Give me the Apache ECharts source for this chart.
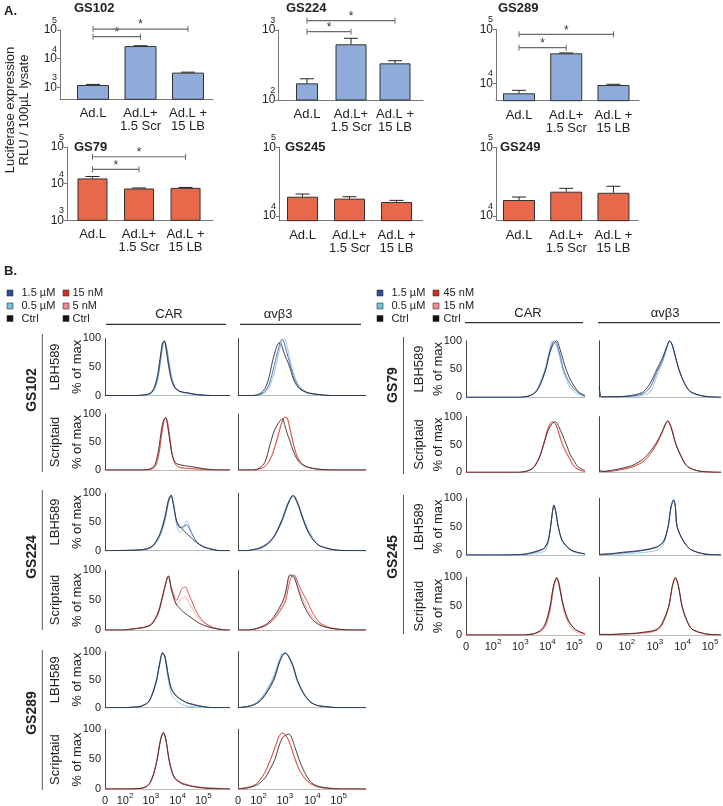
<!DOCTYPE html>
<html>
<head>
<meta charset="utf-8">
<script src="https://cdn.jsdelivr.net/npm/echarts@6.0.0/dist/echarts.min.js"></script>
<style>
  html, body { margin: 0; padding: 0; background: #fff; }
  #chart { width: 723px; height: 806px; }
</style>
</head>
<body>
<div id="chart"></div>
<script>
const FONT = "'Liberation Sans', Arial, sans-serif";

// ---- A. luciferase bars (RLU / 100uL lysate) ----
const barCats = ['Ad.L', 'Ad.L+\n1.5 Scr', 'Ad.L +\n15 LB'];
const gs102Mean = [1200, 27500, 3250];
const gs102Err = [60, 700, 120];
const gs224Mean = [173, 625, 334];
const gs224Err = [28, 136, 30];
const gs289Mean = [6530, 35900, 9310];
const gs289Err = [890, 600, 300];
const gs79Mean = [13900, 7380, 7670];
const gs79Err = [1800, 250, 220];
const gs245Mean = [19100, 17900, 16000];
const gs245Err = [1800, 1200, 900];
const gs249Mean = [17100, 22600, 21800];
const gs249Err = [1800, 2700, 5300];
// significance brackets: [from, to, level]
const gs102Sig = [[0, 1, 58300], [0, 2, 108000]];
const gs224Sig = [[0, 1, 946], [0, 2, 1360]];
const gs289Sig = [[0, 1, 45600], [0, 2, 80800]];
const gs79Sig = [[0, 1, 24500], [0, 2, 54200]];

// ---- B. flow histograms (% of max), x in display channels 0..1000 ----
const leftTicks = [0, 160, 366, 580, 786];
const rightTicks = [0, 227, 456, 684, 910];

const gs102CarLbhX = [0, 250, 320, 360, 390, 420, 445, 460, 475, 490, 510, 530, 560, 600, 650, 700, 760, 850, 1000];
const gs102CarLbhCtrl = [0, 0, 1, 4, 12, 35, 72, 92, 95, 78, 50, 28, 13, 7, 5, 3, 1, 0, 0];
const gs102CarLbhHigh = [0, 0, 1, 3, 10, 30, 65, 88, 96, 85, 57, 32, 14, 7, 5, 3, 1, 0, 0];
const gs102CarLbhLow = [0, 0, 1, 3, 8, 25, 58, 82, 94, 88, 62, 36, 16, 7, 4, 2, 1, 0, 0];

const gs102AvbLbhX = [0, 120, 170, 210, 240, 270, 300, 320, 340, 355, 370, 390, 410, 440, 480, 540, 620, 720, 1000];
const gs102AvbLbhCtrl = [0, 0, 3, 12, 30, 60, 84, 92, 88, 78, 68, 58, 45, 25, 12, 5, 2, 0, 0];
const gs102AvbLbhHigh = [0, 0, 2, 7, 18, 40, 68, 85, 98, 96, 85, 68, 52, 30, 14, 5, 2, 0, 0];
const gs102AvbLbhLow = [0, 0, 1, 5, 13, 30, 55, 75, 92, 99, 98, 80, 60, 35, 16, 6, 2, 0, 0];

const gs102CarScrX = [0, 300, 360, 400, 430, 450, 470, 485, 500, 515, 530, 550, 575, 610, 660, 720, 800, 900, 1000];
const gs102CarScrCtrl = [0, 0, 2, 10, 38, 70, 90, 93, 80, 58, 35, 18, 11, 9, 7, 5, 2, 0, 0];
const gs102CarScrHigh = [0, 0, 1, 6, 28, 60, 86, 94, 85, 62, 38, 17, 7, 4, 3, 2, 1, 0, 0];
const gs102CarScrLow = [0, 0, 1, 5, 25, 56, 84, 93, 87, 66, 40, 18, 7, 4, 3, 2, 1, 0, 0];

const gs102AvbScrX = [0, 120, 170, 210, 250, 280, 310, 330, 345, 365, 385, 405, 430, 460, 500, 560, 650, 760, 1000];
const gs102AvbScrCtrl = [0, 0, 4, 14, 45, 68, 82, 88, 92, 80, 65, 52, 35, 20, 10, 4, 1, 0, 0];
const gs102AvbScrHigh = [0, 0, 2, 6, 18, 35, 58, 75, 86, 94, 93, 75, 50, 26, 11, 4, 1, 0, 0];
const gs102AvbScrLow = [0, 0, 2, 7, 20, 38, 60, 77, 88, 95, 90, 72, 47, 24, 10, 4, 1, 0, 0];

const gs224CarLbhX = [0, 250, 330, 387, 440, 480, 507, 528, 547, 573, 600, 627, 653, 693, 733, 787, 867, 920, 1000];
const gs224CarLbhCtrl = [0, 1, 3, 10, 30, 60, 88, 97, 80, 52, 42, 36, 30, 22, 14, 7, 2, 0, 0];
const gs224CarLbhHigh = [0, 1, 3, 9, 28, 56, 85, 96, 82, 50, 40, 42, 45, 30, 16, 7, 2, 0, 0];
const gs224CarLbhLow = [0, 1, 2, 8, 25, 52, 82, 95, 84, 45, 32, 40, 52, 32, 16, 6, 2, 0, 0];

const gs224AvbLbhX = [0, 60, 120, 170, 224, 280, 341, 390, 420, 432, 445, 470, 523, 570, 627, 700, 770, 860, 1000];
const gs224AvbLbhCtrl = [0, 0, 2, 5, 12, 25, 52, 82, 95, 96, 92, 80, 45, 24, 10, 4, 1, 0, 0];
const gs224AvbLbhHigh = [0, 0, 2, 4, 10, 23, 50, 80, 94, 96, 94, 82, 47, 25, 10, 4, 1, 0, 0];
const gs224AvbLbhLow = [0, 0, 1, 4, 10, 24, 54, 84, 93, 94, 92, 78, 50, 28, 11, 4, 1, 0, 0];

const gs224CarScrX = [0, 150, 227, 307, 373, 427, 467, 507, 533, 573, 613, 640, 680, 733, 787, 867, 973, 1000];
const gs224CarScrCtrl = [0, 0, 2, 4, 10, 30, 62, 90, 65, 42, 33, 28, 22, 14, 8, 3, 0, 0];
const gs224CarScrHigh = [0, 0, 2, 4, 9, 28, 60, 90, 70, 50, 68, 72, 55, 30, 14, 4, 0, 0];
const gs224CarScrLow = [0, 0, 2, 5, 11, 32, 64, 88, 68, 42, 52, 55, 42, 24, 12, 4, 0, 0];

const gs224AvbScrX = [0, 80, 150, 224, 290, 353, 374, 406, 437, 470, 497, 536, 580, 640, 720, 796, 880, 1000];
const gs224AvbScrCtrl = [0, 0, 3, 10, 25, 50, 65, 92, 88, 68, 50, 32, 18, 8, 3, 1, 0, 0];
const gs224AvbScrHigh = [0, 0, 2, 8, 20, 40, 50, 82, 92, 78, 65, 50, 30, 12, 4, 1, 0, 0];
const gs224AvbScrLow = [0, 0, 3, 9, 22, 44, 58, 90, 90, 72, 56, 38, 22, 10, 3, 1, 0, 0];

const gs289CarLbhX = [0, 150, 227, 280, 347, 387, 413, 440, 461, 480, 507, 533, 573, 613, 653, 707, 760, 867, 1000];
const gs289CarLbhCtrl = [0, 0, 1, 2, 10, 30, 50, 82, 98, 90, 55, 32, 20, 14, 9, 6, 3, 0, 0];
const gs289CarLbhHigh = [0, 0, 1, 2, 10, 28, 48, 80, 98, 92, 58, 34, 21, 14, 9, 5, 3, 0, 0];
const gs289CarLbhLow = [0, 0, 1, 2, 11, 32, 53, 85, 99, 86, 48, 24, 12, 6, 3, 2, 1, 0, 0];

const gs289AvbLbhX = [0, 73, 120, 164, 220, 281, 320, 350, 372, 395, 430, 463, 510, 567, 620, 684, 780, 1000];
const gs289AvbLbhCtrl = [0, 2, 5, 10, 25, 50, 78, 94, 97, 92, 75, 50, 27, 10, 4, 2, 0, 0];
const gs289AvbLbhHigh = [0, 2, 5, 11, 27, 53, 80, 95, 98, 92, 74, 49, 26, 10, 4, 2, 0, 0];
const gs289AvbLbhLow = [0, 2, 6, 13, 31, 58, 84, 97, 97, 90, 72, 47, 25, 10, 4, 2, 0, 0];

const gs289CarScrX = [0, 150, 280, 330, 360, 390, 418, 445, 466, 485, 512, 535, 560, 613, 660, 707, 813, 1000];
const gs289CarScrCtrl = [0, 0, 1, 4, 10, 25, 50, 82, 94, 85, 50, 30, 18, 9, 6, 4, 1, 0];
const gs289CarScrHigh = [0, 0, 1, 4, 11, 27, 52, 84, 95, 84, 48, 28, 17, 10, 7, 4, 2, 0];
const gs289CarScrLow = [0, 0, 1, 3, 10, 26, 51, 84, 95, 86, 50, 30, 19, 11, 7, 5, 2, 0];

const gs289AvbScrX = [0, 55, 100, 151, 210, 255, 289, 320, 346, 370, 398, 445, 476, 520, 567, 620, 697, 800, 1000];
const gs289AvbScrCtrl = [0, 1, 3, 7, 18, 35, 50, 72, 85, 90, 92, 70, 50, 28, 12, 5, 2, 0, 0];
const gs289AvbScrHigh = [0, 2, 4, 10, 28, 50, 70, 88, 94, 90, 80, 50, 33, 18, 9, 4, 1, 0, 0];
const gs289AvbScrLow = [0, 2, 4, 10, 27, 49, 68, 87, 93, 91, 82, 52, 35, 19, 9, 4, 1, 0, 0];

const gs79CarLbhX = [0, 300, 450, 523, 560, 594, 630, 672, 700, 728, 745, 762, 790, 818, 840, 880, 944, 1000];
const gs79CarLbhCtrl = [0, 0, 0, 2, 5, 11, 25, 50, 75, 92, 97, 100, 85, 65, 50, 30, 10, 3];
const gs79CarLbhHigh = [0, 0, 0, 2, 5, 12, 27, 52, 78, 96, 100, 95, 75, 50, 38, 22, 8, 2];
const gs79CarLbhLow = [0, 0, 0, 2, 6, 13, 30, 56, 82, 100, 97, 90, 68, 45, 32, 16, 5, 1];

const gs79AvbLbhX = [0, 10, 30, 150, 254, 320, 364, 419, 474, 520, 555, 578, 600, 653, 700, 749, 859, 1000];
const gs79AvbLbhCtrl = [20, 2, 1, 1, 3, 6, 10, 25, 50, 70, 90, 100, 92, 50, 25, 10, 2, 0];
const gs79AvbLbhHigh = [18, 2, 1, 1, 2, 4, 7, 18, 45, 66, 88, 100, 92, 50, 25, 10, 2, 0];
const gs79AvbLbhLow = [15, 2, 1, 1, 1, 2, 4, 10, 38, 62, 86, 99, 91, 50, 24, 9, 2, 0];

const gs79CarScrX = [0, 300, 450, 509, 545, 575, 615, 653, 690, 726, 753, 780, 809, 843, 880, 909, 941, 1000];
const gs79CarScrCtrl = [0, 0, 0, 2, 5, 10, 25, 50, 75, 88, 91, 82, 68, 50, 30, 20, 10, 3];
const gs79CarScrHigh = [0, 0, 0, 2, 5, 11, 27, 52, 80, 91, 86, 70, 50, 35, 20, 10, 5, 1];
const gs79CarScrLow = [0, 0, 0, 2, 5, 11, 26, 51, 78, 90, 87, 72, 53, 38, 22, 12, 6, 2];

const gs79AvbScrX = [0, 10, 39, 137, 268, 320, 367, 420, 465, 510, 545, 563, 590, 629, 680, 727, 825, 1000];
const gs79AvbScrCtrl = [8, 2, 2, 5, 12, 18, 25, 38, 52, 70, 88, 92, 80, 50, 25, 10, 2, 0];
const gs79AvbScrHigh = [6, 2, 1, 3, 9, 14, 20, 33, 48, 68, 87, 93, 82, 52, 26, 10, 2, 0];
const gs79AvbScrLow = [6, 2, 1, 4, 10, 15, 21, 34, 49, 68, 86, 92, 81, 51, 25, 10, 2, 0];

const gs245CarLbhX = [0, 300, 450, 510, 580, 640, 664, 690, 711, 728, 739, 755, 775, 810, 874, 930, 1000];
const gs245CarLbhCtrl = [0, 0, 1, 2, 6, 10, 14, 25, 50, 78, 87, 75, 50, 25, 10, 5, 2];
const gs245CarLbhHigh = [0, 0, 0, 2, 5, 9, 13, 24, 50, 78, 88, 76, 50, 25, 10, 5, 2];
const gs245CarLbhLow = [0, 0, 0, 1, 3, 5, 8, 20, 48, 79, 89, 77, 50, 24, 9, 4, 2];

const gs245AvbLbhX = [0, 88, 198, 300, 391, 450, 487, 530, 565, 590, 611, 625, 639, 690, 749, 859, 1000];
const gs245AvbLbhCtrl = [1, 2, 5, 7, 10, 13, 16, 25, 50, 85, 97, 85, 50, 25, 10, 2, 0];
const gs245AvbLbhHigh = [1, 2, 4, 6, 9, 12, 15, 24, 50, 86, 97, 85, 50, 25, 10, 2, 0];
const gs245AvbLbhLow = [1, 1, 2, 3, 5, 7, 10, 20, 48, 85, 98, 86, 51, 25, 10, 2, 0];

const gs245CarScrX = [0, 300, 480, 566, 600, 636, 670, 706, 735, 762, 780, 818, 860, 916, 1000];
const gs245CarScrCtrl = [0, 0, 0, 2, 5, 10, 22, 50, 85, 100, 88, 50, 25, 10, 2];
const gs245CarScrHigh = [0, 0, 0, 2, 4, 8, 18, 45, 82, 98, 92, 52, 26, 10, 2];
const gs245CarScrLow = [0, 0, 0, 2, 4, 8, 16, 40, 78, 97, 90, 45, 20, 6, 1];

const gs245AvbScrX = [0, 100, 198, 300, 364, 430, 474, 515, 570, 600, 625, 650, 680, 720, 763, 873, 1000];
const gs245AvbScrCtrl = [1, 1, 2, 3, 5, 7, 10, 20, 50, 85, 100, 85, 50, 25, 10, 2, 0];
const gs245AvbScrHigh = [1, 1, 2, 3, 4, 6, 9, 18, 48, 84, 99, 86, 50, 25, 10, 2, 0];
const gs245AvbScrLow = [1, 1, 1, 2, 3, 5, 8, 16, 47, 85, 98, 84, 48, 23, 9, 2, 0];

const blueLines = { ctrl: '#2a2d3c', high: '#3f63ad', low: '#8cc6e6' };
const redLines = { ctrl: '#3b2b2b', high: '#d9443e', low: '#f3a3a3' };

const option = {
  animation: false,
  textStyle: { fontFamily: FONT },
  grid: [],
  xAxis: [],
  yAxis: [],
  series: [],
  graphic: []
};

function txt(text, x, y, size, opts) {
  opts = opts || {};
  const align = opts.align || 'left';
  return {
    type: 'text', x: x, y: y, rotation: opts.rot || 0, silent: true,
    style: {
      text: text, fill: opts.color || '#222',
      font: (opts.bold ? 'bold ' : '') + size + 'px ' + FONT,
      align: align, textAlign: align,
      verticalAlign: 'middle', textVerticalAlign: 'middle'
    }
  };
}
function seg(x1, y1, x2, y2, color, w) {
  return { type: 'line', silent: true, shape: { x1: x1, y1: y1, x2: x2, y2: y2 },
    style: { stroke: color || '#333', lineWidth: w || 1 } };
}

function addBarChart(c) {
  const gi = option.grid.length;
  option.grid.push({ left: c.left, top: c.top, width: c.width, height: c.bottom - c.top });
  const xi = option.xAxis.length;
  option.xAxis.push({
    gridIndex: gi, type: 'value', min: c.xMin, max: c.xMax,
    axisLine: { show: true, onZero: false, lineStyle: { color: '#777', width: 1 } },
    axisTick: { show: false },
    splitLine: { show: false },
    axisLabel: {
      customValues: [0, 1, 2], margin: 8, fontSize: 13, lineHeight: 13, color: '#222',
      formatter: v => barCats[Math.round(v)]
    }
  });
  const yi = option.yAxis.length;
  option.yAxis.push({
    gridIndex: gi, type: 'value', min: c.yMin, max: c.yMax,
    axisLine: { show: true, onZero: false, lineStyle: { color: '#777', width: 1 } },
    axisTick: { show: true, length: 3, customValues: c.ticks, lineStyle: { color: '#777' } },
    splitLine: { show: false },
    axisLabel: {
      customValues: c.ticks, margin: 3, padding: [0, 0, 8, 0],
      formatter: v => '{e|' + Math.round(v) + '}\n{b|10}',
      rich: {
        e: { fontSize: 9, lineHeight: 8, color: '#222', fontFamily: FONT },
        b: { fontSize: 12, lineHeight: 11, color: '#222', fontFamily: FONT }
      }
    }
  });
  const barStyle = { color: c.color, borderColor: '#333', borderWidth: 1 };
  const pts = c.mean.map((v, i) => [i, Math.log10(v)]);
  if (c.firstWidth) {
    const xi2 = option.xAxis.length;
    option.xAxis.push({ gridIndex: gi, type: 'value', min: c.xMin, max: c.xMax, show: false });
    option.series.push({ type: 'bar', xAxisIndex: xi, yAxisIndex: yi, data: pts.slice(0, 1),
      barWidth: c.firstWidth, clip: true, silent: true, itemStyle: barStyle });
    option.series.push({ type: 'bar', xAxisIndex: xi2, yAxisIndex: yi, data: pts.slice(1),
      barWidth: c.barWidth, clip: true, silent: true, itemStyle: barStyle });
  } else {
    option.series.push({ type: 'bar', xAxisIndex: xi, yAxisIndex: yi, data: pts,
      barWidth: c.barWidth, clip: true, silent: true, itemStyle: barStyle });
  }
  option.series.push({
    type: 'custom', xAxisIndex: xi, yAxisIndex: yi, silent: true, z: 4,
    data: c.mean.map((v, i) => [i, Math.log10(v), Math.log10(v + c.err[i])]),
    encode: { x: 0, y: [1, 2] },
    renderItem: (params, api) => {
      const b = api.coord([api.value(0), api.value(1)]);
      const t = api.coord([api.value(0), api.value(2)]);
      return { type: 'group', children: [
        { type: 'line', shape: { x1: t[0], y1: b[1], x2: t[0], y2: t[1] }, style: { stroke: '#222', lineWidth: 1 } },
        { type: 'line', shape: { x1: t[0] - 7, y1: t[1], x2: t[0] + 7, y2: t[1] }, style: { stroke: '#222', lineWidth: 1 } }
      ] };
    }
  });
  if (c.sig) {
    option.series.push({
      type: 'custom', xAxisIndex: xi, yAxisIndex: yi, silent: true, z: 4,
      data: c.sig.map(s => [s[0], s[1], Math.log10(s[2])]),
      encode: { x: [0, 1], y: 2 },
      renderItem: (params, api) => {
        const p1 = api.coord([api.value(0), api.value(2)]);
        const p2 = api.coord([api.value(1), api.value(2)]);
        const col = '#6a6a6a';
        return { type: 'group', children: [
          { type: 'line', shape: { x1: p1[0], y1: p1[1], x2: p2[0], y2: p2[1] }, style: { stroke: col, lineWidth: 1.2 } },
          { type: 'line', shape: { x1: p1[0], y1: p1[1] - 3, x2: p1[0], y2: p1[1] + 3 }, style: { stroke: col, lineWidth: 1 } },
          { type: 'line', shape: { x1: p2[0], y1: p2[1] - 3, x2: p2[0], y2: p2[1] + 3 }, style: { stroke: col, lineWidth: 1 } },
          { type: 'text', x: (p1[0] + p2[0]) / 2, y: p1[1] - 4,
            style: { text: '*', font: '12px ' + FONT, fill: '#333', align: 'center', textAlign: 'center',
              verticalAlign: 'middle', textVerticalAlign: 'middle' } }
        ] };
      }
    });
  }
  option.graphic.push(txt(c.title, c.titleX, c.titleY, 13, { bold: true }));
}

const BLUE = '#8eabd9';
const ORANGE = '#e8684b';
addBarChart({ title: 'GS102', titleX: 74, titleY: 8, left: 60, width: 153, top: 30, bottom: 99.3,
  xMin: -0.695, xMax: 2.526, yMin: 2.58, yMax: 5, ticks: [3, 4, 5], mean: gs102Mean, err: gs102Err,
  sig: gs102Sig, color: BLUE, barWidth: 32 });
addBarChart({ title: 'GS224', titleX: 286, titleY: 8, left: 278.3, width: 144.7, top: 30, bottom: 100,
  xMin: -0.652, xMax: 2.636, yMin: 2, yMax: 3, ticks: [2, 3], mean: gs224Mean, err: gs224Err,
  sig: gs224Sig, color: BLUE, barWidth: 31, firstWidth: 22 });
addBarChart({ title: 'GS289', titleX: 498, titleY: 8, left: 496, width: 143, top: 29.3, bottom: 100.7,
  xMin: -0.487, xMax: 2.54, yMin: 3.678, yMax: 5, ticks: [4, 5], mean: gs289Mean, err: gs289Err,
  sig: gs289Sig, color: BLUE, barWidth: 32 });
addBarChart({ title: 'GS79', titleX: 74, titleY: 147, left: 67, width: 146, top: 147, bottom: 220.3,
  xMin: -0.548, xMax: 2.59, yMin: 3, yMax: 5, ticks: [3, 4, 5], mean: gs79Mean, err: gs79Err,
  sig: gs79Sig, color: ORANGE, barWidth: 30 });
addBarChart({ title: 'GS245', titleX: 285, titleY: 147, left: 279, width: 143.7, top: 147.3, bottom: 220.7,
  xMin: -0.5, xMax: 2.557, yMin: 3.932, yMax: 5, ticks: [4, 5], mean: gs245Mean, err: gs245Err,
  color: ORANGE, barWidth: 31 });
addBarChart({ title: 'GS249', titleX: 500, titleY: 147, left: 496, width: 142, top: 147.3, bottom: 220.7,
  xMin: -0.487, xMax: 2.52, yMin: 3.932, yMax: 5, ticks: [4, 5], mean: gs249Mean, err: gs249Err,
  color: ORANGE, barWidth: 32 });

function addHist(box, xs, ctrl, high, low, pal, showY, ticks) {
  const gi = option.grid.length;
  option.grid.push({ left: box[0], top: box[2], width: box[1], height: box[3] - box[2] });
  const xi = option.xAxis.length;
  option.xAxis.push({
    gridIndex: gi, type: 'value', min: 0, max: 1000,
    axisLine: { show: true, onZero: false, lineStyle: { color: '#bbb', width: 1 } },
    axisTick: { show: false }, splitLine: { show: false },
    axisLabel: ticks ? {
      customValues: ticks, margin: 3,
      formatter: v => {
        const i = ticks.indexOf(v);
        return i <= 0 ? '{b|0}' : '{b|10}{e|' + (i + 1) + '}';
      },
      rich: {
        b: { fontSize: 11, lineHeight: 14, color: '#222', verticalAlign: 'bottom', fontFamily: FONT },
        e: { fontSize: 8, lineHeight: 8, color: '#222', verticalAlign: 'top', fontFamily: FONT }
      }
    } : { show: false }
  });
  const yi = option.yAxis.length;
  option.yAxis.push({
    gridIndex: gi, type: 'value', min: 0, max: 100, interval: 50,
    axisLine: { show: true, onZero: false, lineStyle: { color: '#444', width: 1 } },
    axisTick: { show: false }, splitLine: { show: false },
    axisLabel: showY ? { fontSize: 11, color: '#222', margin: 4 } : { show: false }
  });
  [[low, pal.low], [high, pal.high], [ctrl, pal.ctrl]].forEach(([ys, col]) => {
    option.series.push({
      type: 'line', xAxisIndex: xi, yAxisIndex: yi, silent: true,
      data: xs.map((x, i) => [x, ys[i]]),
      showSymbol: false, symbol: 'none', smooth: 0.3,
      lineStyle: { width: 1, color: col, opacity: 0.9 }
    });
  });
}

// left block rows [top(100), bottom(0)]
const L = [[338.3, 395.5], [414, 470], [493.3, 550.7], [570, 630], [651.7, 707.7], [729.3, 790]];
const LCAR = [105, 125], LAVB = [238, 128];
const leftPlots = [
  [gs102CarLbhX, gs102CarLbhCtrl, gs102CarLbhHigh, gs102CarLbhLow, gs102AvbLbhX, gs102AvbLbhCtrl, gs102AvbLbhHigh, gs102AvbLbhLow, blueLines],
  [gs102CarScrX, gs102CarScrCtrl, gs102CarScrHigh, gs102CarScrLow, gs102AvbScrX, gs102AvbScrCtrl, gs102AvbScrHigh, gs102AvbScrLow, redLines],
  [gs224CarLbhX, gs224CarLbhCtrl, gs224CarLbhHigh, gs224CarLbhLow, gs224AvbLbhX, gs224AvbLbhCtrl, gs224AvbLbhHigh, gs224AvbLbhLow, blueLines],
  [gs224CarScrX, gs224CarScrCtrl, gs224CarScrHigh, gs224CarScrLow, gs224AvbScrX, gs224AvbScrCtrl, gs224AvbScrHigh, gs224AvbScrLow, redLines],
  [gs289CarLbhX, gs289CarLbhCtrl, gs289CarLbhHigh, gs289CarLbhLow, gs289AvbLbhX, gs289AvbLbhCtrl, gs289AvbLbhHigh, gs289AvbLbhLow, blueLines],
  [gs289CarScrX, gs289CarScrCtrl, gs289CarScrHigh, gs289CarScrLow, gs289AvbScrX, gs289AvbScrCtrl, gs289AvbScrHigh, gs289AvbScrLow, redLines]
];
leftPlots.forEach((p, r) => {
  const last = r === leftPlots.length - 1;
  addHist([LCAR[0], LCAR[1], L[r][0], L[r][1]], p[0], p[1], p[2], p[3], p[8], true, last ? leftTicks : null);
  addHist([LAVB[0], LAVB[1], L[r][0], L[r][1]], p[4], p[5], p[6], p[7], p[8], false, last ? leftTicks : null);
});

const R = [[340.7, 397.3], [416.7, 472.3], [498.3, 555], [577.3, 635]];
const RCAR = [466, 119], RAVB = [599.3, 121.7];
const rightPlots = [
  [gs79CarLbhX, gs79CarLbhCtrl, gs79CarLbhHigh, gs79CarLbhLow, gs79AvbLbhX, gs79AvbLbhCtrl, gs79AvbLbhHigh, gs79AvbLbhLow, blueLines],
  [gs79CarScrX, gs79CarScrCtrl, gs79CarScrHigh, gs79CarScrLow, gs79AvbScrX, gs79AvbScrCtrl, gs79AvbScrHigh, gs79AvbScrLow, redLines],
  [gs245CarLbhX, gs245CarLbhCtrl, gs245CarLbhHigh, gs245CarLbhLow, gs245AvbLbhX, gs245AvbLbhCtrl, gs245AvbLbhHigh, gs245AvbLbhLow, blueLines],
  [gs245CarScrX, gs245CarScrCtrl, gs245CarScrHigh, gs245CarScrLow, gs245AvbScrX, gs245AvbScrCtrl, gs245AvbScrHigh, gs245AvbScrLow, redLines]
];
rightPlots.forEach((p, r) => {
  const last = r === rightPlots.length - 1;
  addHist([RCAR[0], RCAR[1], R[r][0], R[r][1]], p[0], p[1], p[2], p[3], p[8], true, last ? rightTicks : null);
  addHist([RAVB[0], RAVB[1], R[r][0], R[r][1]], p[4], p[5], p[6], p[7], p[8], false, last ? rightTicks : null);
});

// ---- text and decorations ----
const G = option.graphic;
G.push(txt('A.', 4, 11, 13, { bold: true }));
G.push(txt('B.', 4, 271, 13, { bold: true }));
G.push(txt('Luciferase expression', 10, 110, 13, { rot: Math.PI / 2, align: 'center' }));
G.push(txt('RLU / 100\u00b5L lysate', 24, 110, 13, { rot: Math.PI / 2, align: 'center' }));

function legend(x1, t1, x2, t2, labels1, labels2, cols1, cols2) {
  const ys = [293, 306, 318.5];
  ys.forEach((y, i) => {
    G.push({ type: 'rect', silent: true, shape: { x: x1, y: y - 3, width: 6, height: 6 },
      style: { fill: cols1[i], stroke: '#333', lineWidth: 0.6 } });
    G.push(txt(labels1[i], t1, y, 11));
    G.push({ type: 'rect', silent: true, shape: { x: x2, y: y - 3, width: 6, height: 6 },
      style: { fill: cols2[i], stroke: '#333', lineWidth: 0.6 } });
    G.push(txt(labels2[i], t2, y, 11));
  });
}
legend(7, 21.5, 63, 72.5, ['1.5 \u00b5M', '0.5 \u00b5M', 'Ctrl'], ['15 nM', '5 nM', 'Ctrl'],
  ['#2f4e9c', '#6fc6da', '#111'], ['#d62a2a', '#f08c8c', '#111']);
legend(377, 391.5, 433, 443.5, ['1.5 \u00b5M', '0.5 \u00b5M', 'Ctrl'], ['45 nM', '15 nM', 'Ctrl'],
  ['#2f4e9c', '#6fc6da', '#111'], ['#d62a2a', '#f08c8c', '#111']);

[['CAR', 169, 314.5, 106, 226, 324.3], ['\u03b1v\u03b23', 278, 314.5, 240, 361, 324.3],
 ['CAR', 528, 313.5, 465, 583, 322.7], ['\u03b1v\u03b23', 665, 313.5, 598, 720, 322.7]].forEach(h => {
  G.push(txt(h[0], h[1], h[2], 13, { align: 'center' }));
  G.push(seg(h[3], h[5], h[4], h[5], '#333', 1.2));
});

[['GS102', 32, 390, 42.3, 334, 472], ['GS224', 32, 557, 42.3, 490, 630], ['GS289', 32, 713, 42.3, 650, 790],
 ['GS79', 393, 385, 403.5, 337, 474], ['GS245', 393, 557, 403.5, 495, 634]].forEach(g => {
  G.push(txt(g[0], g[1], g[2], 14, { bold: true, rot: Math.PI / 2, align: 'center' }));
  G.push(seg(g[3], g[4], g[3], g[5], '#555', 1));
});

const rowNames = ['LBH589', 'Scriptaid'];
L.forEach((r, i) => {
  const cy = (r[0] + r[1]) / 2;
  G.push(txt(rowNames[i % 2], 55, cy, 13, { rot: Math.PI / 2, align: 'center' }));
  G.push(txt('% of max', 77, cy, 13, { rot: Math.PI / 2, align: 'center' }));
});
R.forEach((r, i) => {
  const cy = (r[0] + r[1]) / 2;
  G.push(txt(rowNames[i % 2], 419, cy, 13, { rot: Math.PI / 2, align: 'center' }));
  G.push(txt('% of max', 438, cy, 13, { rot: Math.PI / 2, align: 'center' }));
});

const chart = echarts.init(document.getElementById('chart'), null, { renderer: 'canvas' });
chart.setOption(option);
</script>
</body>
</html>
